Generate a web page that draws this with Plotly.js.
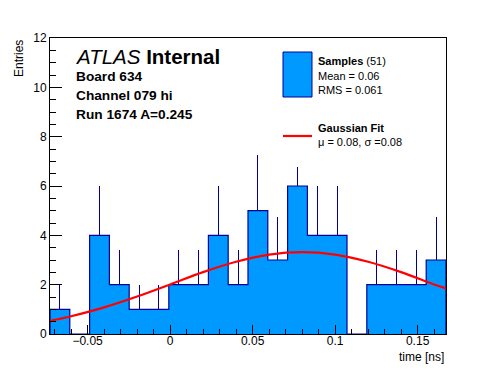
<!DOCTYPE html>
<html>
<head>
<meta charset="utf-8">
<script src="https://cdn.plot.ly/plotly-3.0.1.min.js"></script>
<style>html,body{margin:0;padding:0;background:#fff;}#chart{width:496px;height:372px;}</style>
</head>
<body>
<div id="chart"></div>
<script>
// ---- data ----
const binCenters = [-0.0668, -0.0548, -0.0428, -0.0308, -0.0188, -0.0068, 0.0052, 0.0172, 0.0292, 0.0412,
                    0.0532, 0.0652, 0.0772, 0.0892, 0.1012, 0.1132, 0.1252, 0.1372, 0.1492, 0.1612];
const binWidth = 0.012;
const counts = [1, 0, 4, 2, 1, 1, 2, 2, 4, 2, 5, 3, 6, 4, 4, 0, 2, 2, 2, 3];
const errUp = [1, 0, 2, 1.41, 1, 1, 1.41, 1.41, 2, 1.41, 2.24, 1.73, 0.78, 2, 2, 0, 1.41, 1.41, 1.41, 1.73];
const fitX = [-0.0728, -0.06, -0.04, -0.02, 0, 0.02, 0.04, 0.06, 0.08, 0.10, 0.12, 0.14, 0.16, 0.1672];
const fitY = [0.53, 0.72, 1.08, 1.52, 2.01, 2.51, 2.93, 3.22, 3.32, 3.22, 2.93, 2.51, 2.01, 1.85];
const xTicks = [-0.05, 0, 0.05, 0.1, 0.15];
const yTicks = [0, 2, 4, 6, 8, 10, 12];
const infoLines = ["Board 634", "Channel 079 hi", "Run 1674 A=0.245"];
const legendSamples = ["<b>Samples</b> (51)", "Mean = 0.06", "RMS = 0.061"];
const legendFit = ["<b>Gaussian Fit</b>", "\u03bc = 0.08, \u03c3 =0.08"];

// ---- layout geometry ----
const W = 496, H = 372;
const M = {l: 50, r: 50, t: 38, b: 38};
const PW = W - M.l - M.r, PH = H - M.t - M.b;
const px = x => (x - M.l) / PW;
const py = y => (H - M.b - y) / PH;
const FONT = '"Liberation Sans", Arial, Helvetica, sans-serif';
const FILL = '#0099ff', EDGE = '#000099';

// outline of the histogram (step contour)
const edges = binCenters.map(c => c - binWidth / 2);
const last = binCenters[binCenters.length - 1] + binWidth / 2;
const stepX = [edges[0]].concat(edges, [last, last]);
const stepY = [0].concat(counts, [counts[counts.length - 1], 0]);

const traces = [
  {
    type: 'bar', x: binCenters, y: counts, width: binWidth,
    marker: {color: FILL, line: {width: 0}},
    error_y: {type: 'data', symmetric: false, array: errUp, arrayminus: counts.map(() => 0),
              width: 0, thickness: 1, color: EDGE},
    hoverinfo: 'skip', showlegend: false
  },
  {
    type: 'scatter', mode: 'lines', x: stepX, y: stepY,
    line: {shape: 'hv', color: EDGE, width: 1.2}, hoverinfo: 'skip', showlegend: false
  },
  {
    type: 'scatter', mode: 'lines', x: fitX, y: fitY,
    line: {shape: 'spline', color: '#ff0000', width: 2.2}, hoverinfo: 'skip', showlegend: false
  }
];

const ann = [];
function txt(text, x, yMid, size, opts) {
  ann.push(Object.assign({
    text: text, xref: 'paper', yref: 'paper', x: px(x), y: py(yMid),
    xanchor: 'left', yanchor: 'middle', showarrow: false,
    font: {family: FONT, size: size, color: '#000'}
  }, opts || {}));
}
txt('<i>ATLAS</i> <b>Internal</b>', 73, 56, 20.5);
infoLines.forEach((t, i) => txt('<b>' + t + '</b>', 74, 76 + 19 * i, 13.7));
legendSamples.forEach((t, i) => txt(t, 316, [61, 76, 90][i], 11));
legendFit.forEach((t, i) => txt(t, 316, [128, 142][i], 11));
// axis titles
ann.push({text: 'time [ns]', xref: 'paper', yref: 'paper', x: 1, y: py(357), xanchor: 'right', yanchor: 'middle',
          showarrow: false, font: {family: FONT, size: 12, color: '#000'}});
ann.push({text: 'Entries', xref: 'paper', yref: 'paper', x: px(18.5), y: 1, xanchor: 'center', yanchor: 'top',
          textangle: -90, showarrow: false, font: {family: FONT, size: 12, color: '#000'}});

const shapes = [
  {type: 'rect', xref: 'paper', yref: 'paper', x0: px(283), x1: px(312), y0: py(97), y1: py(52),
   fillcolor: FILL, line: {color: EDGE, width: 1}},
  {type: 'line', xref: 'paper', yref: 'paper', x0: px(283), x1: px(312), y0: py(136), y1: py(136),
   line: {color: '#ff0000', width: 2.2}}
];

const layout = {
  width: W, height: H, margin: M,
  paper_bgcolor: '#fff', plot_bgcolor: '#fff',
  font: {family: FONT, size: 12, color: '#000'},
  bargap: 0, showlegend: false,
  xaxis: {
    range: [-0.0728, 0.1672], tickvals: xTicks, ticks: 'inside', ticklen: 9, tickcolor: '#000',
    minor: {dtick: 0.01, tick0: 0, ticks: 'inside', ticklen: 5, tickcolor: '#000'},
    showline: true, mirror: true, linecolor: '#000', linewidth: 1, ticklabelstandoff: -4,
    showgrid: false, zeroline: false, tickfont: {family: FONT, size: 12}
  },
  yaxis: {
    range: [0, 12], tickvals: yTicks, ticks: 'inside', ticklen: 12, tickcolor: '#000',
    minor: {dtick: 0.5, tick0: 0, ticks: 'inside', ticklen: 6, tickcolor: '#000'},
    showline: true, mirror: true, linecolor: '#000', linewidth: 1,
    showgrid: false, zeroline: false, tickfont: {family: FONT, size: 12}
  },
  annotations: ann, shapes: shapes
};

Plotly.newPlot('chart', traces, layout, {staticPlot: true, displayModeBar: false});
</script>
</body>
</html>
